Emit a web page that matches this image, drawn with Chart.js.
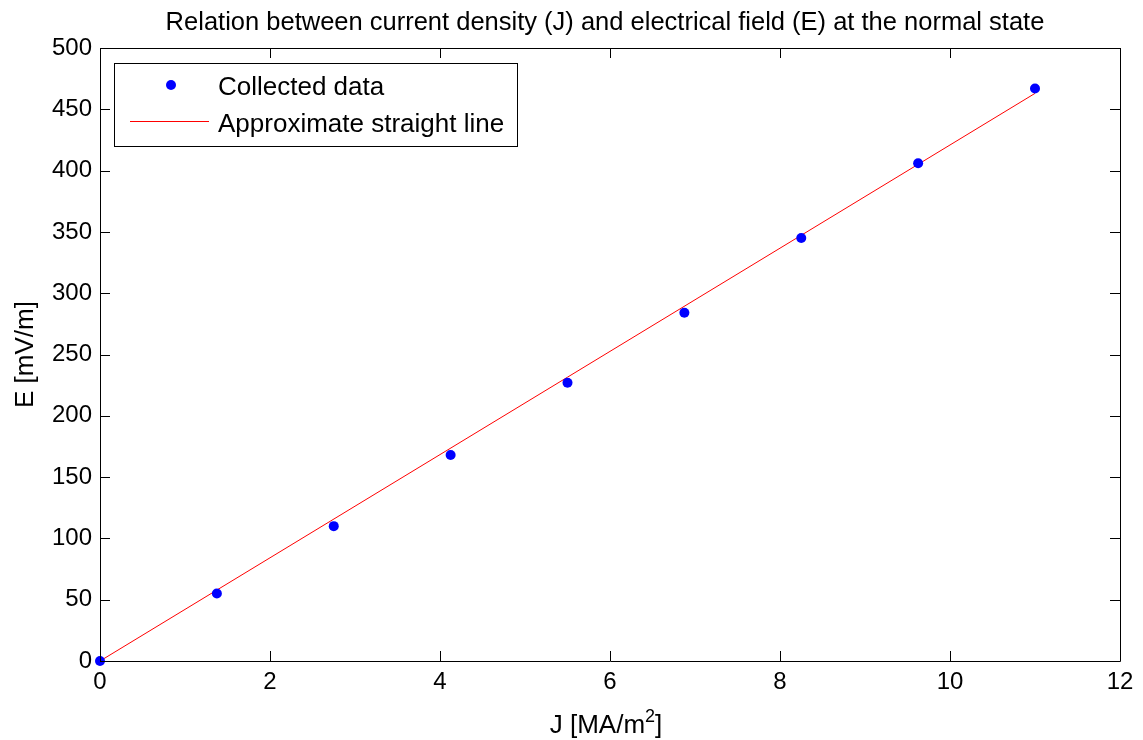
<!DOCTYPE html>
<html>
<head>
<meta charset="utf-8">
<script src="https://cdn.jsdelivr.net/npm/chart.js@4"></script>
<style>
  html, body { margin: 0; padding: 0; background: #fff; }
  #wrap { width: 1143px; height: 740px; }
</style>
</head>
<body>
<div id="wrap"><canvas id="chart"></canvas></div>
<script>
// dados
const currentJ = [0, 1.375, 2.75, 4.125, 5.5, 6.875, 8.25, 9.625, 11];
const fieldE = [0, 55, 110, 168, 227, 284, 345, 406, 467];
const fitJ = [0, 11];
const fitE = [0, 463];
const xTicks = [0, 2, 4, 6, 8, 10, 12];
const yTicks = [0, 50, 100, 150, 200, 250, 300, 350, 400, 450, 500];

const titleText = "Relation between current density (J) and electrical field (E) at the normal state";
const legendLabels = ["Collected data", "Approximate straight line"];
const FONT = "Arial, 'Liberation Sans', sans-serif";

// plugin: moldura, ticks para dentro, título, rótulos dos eixos e legenda
const matlabAxes = {
  id: "matlabAxes",
  afterDatasetsDraw(chart) {
    const ctx = chart.ctx;
    const a = chart.chartArea;
    const xs = chart.scales.x, ys = chart.scales.y;
    const tl = 10;
    ctx.save();
    ctx.strokeStyle = "#000";
    ctx.lineWidth = 1;
    ctx.beginPath();
    ctx.rect(Math.round(a.left) + 0.5, Math.round(a.top) + 0.5,
             Math.round(a.right - a.left), Math.round(a.bottom - a.top));
    ctx.stroke();
    ctx.beginPath();
    xTicks.forEach(v => {
      const px = Math.round(xs.getPixelForValue(v)) + 0.5;
      ctx.moveTo(px, a.bottom); ctx.lineTo(px, a.bottom - tl);
      ctx.moveTo(px, a.top); ctx.lineTo(px, a.top + tl);
    });
    yTicks.forEach(v => {
      const py = Math.round(ys.getPixelForValue(v)) + 0.5;
      ctx.moveTo(a.left, py); ctx.lineTo(a.left + tl, py);
      ctx.moveTo(a.right, py); ctx.lineTo(a.right - tl, py);
    });
    ctx.stroke();

    ctx.fillStyle = "#000";
    ctx.textBaseline = "alphabetic";
    const cx = (a.left + a.right) / 2;

    // título
    ctx.font = "25.5px " + FONT;
    ctx.textAlign = "center";
    ctx.fillText(titleText, cx - 5, 30);

    // rótulo eixo x com expoente
    ctx.textAlign = "left";
    ctx.font = "26px " + FONT;
    const base = "J [MA/m", end = "]";
    const w1 = ctx.measureText(base).width;
    const w3 = ctx.measureText(end).width;
    ctx.font = "18px " + FONT;
    const w2 = ctx.measureText("2").width;
    const x0 = cx - 4 - (w1 + w2 + w3) / 2;
    ctx.font = "26px " + FONT;
    ctx.fillText(base, x0, 733);
    ctx.fillText(end, x0 + w1 + w2, 733);
    ctx.font = "18px " + FONT;
    ctx.fillText("2", x0 + w1, 722);

    // rótulo eixo y
    ctx.save();
    ctx.translate(33, (a.top + a.bottom) / 2);
    ctx.rotate(-Math.PI / 2);
    ctx.textAlign = "center";
    ctx.font = "26px " + FONT;
    ctx.fillText("E [mV/m]", 0, 0);
    ctx.restore();

    // legenda
    ctx.fillStyle = "#fff";
    ctx.fillRect(114, 63, 403, 83);
    ctx.strokeStyle = "#000";
    ctx.strokeRect(114.5, 63.5, 403, 83);
    ctx.fillStyle = chart.data.datasets[1].backgroundColor;
    ctx.beginPath();
    ctx.arc(171, 85, 5, 0, Math.PI * 2);
    ctx.fill();
    ctx.strokeStyle = chart.data.datasets[0].borderColor;
    ctx.beginPath();
    ctx.moveTo(130, 121.5); ctx.lineTo(209, 121.5);
    ctx.stroke();
    ctx.fillStyle = "#000";
    ctx.font = "26px " + FONT;
    ctx.textAlign = "left";
    ctx.fillText(legendLabels[0], 218, 95);
    ctx.fillText(legendLabels[1], 218, 132);
    ctx.restore();
  }
};

const ctx = document.getElementById("chart").getContext("2d");
new Chart(ctx, {
  type: "scatter",
  data: {
    datasets: [
      {
        label: legendLabels[1],
        type: "line",
        data: fitJ.map((j, i) => ({ x: j, y: fitE[i] })),
        borderColor: "#ff0000",
        borderWidth: 1,
        pointRadius: 0,
        fill: false,
        order: 2
      },
      {
        label: legendLabels[0],
        data: currentJ.map((j, i) => ({ x: j, y: fieldE[i] })),
        backgroundColor: "#0000ff",
        borderColor: "#0000ff",
        pointRadius: 5,
        borderWidth: 0,
        clip: false,
        order: 1
      }
    ]
  },
  options: {
    responsive: true,
    maintainAspectRatio: false,
    animation: false,
    layout: { padding: { left: 0, top: 48, right: 23, bottom: 0 } },
    plugins: {
      legend: { display: false },
      title: { display: false },
      tooltip: { enabled: false }
    },
    scales: {
      x: {
        type: "linear",
        min: 0, max: 12,
        afterBuildTicks: s => { s.ticks = xTicks.map(v => ({ value: v })); },
        afterFit: s => { s.height = 79; },
        grid: { display: false, drawTicks: false },
        border: { display: false },
        ticks: { color: "#000", padding: 7, font: { size: 24, family: FONT } }
      },
      y: {
        type: "linear",
        min: 0, max: 500,
        afterBuildTicks: s => { s.ticks = yTicks.map(v => ({ value: v })); },
        afterFit: s => { s.width = 100; },
        grid: { display: false, drawTicks: false },
        border: { display: false },
        ticks: { color: "#000", padding: 8, font: { size: 24, family: FONT } }
      }
    }
  },
  plugins: [matlabAxes]
});
</script>
</body>
</html>
